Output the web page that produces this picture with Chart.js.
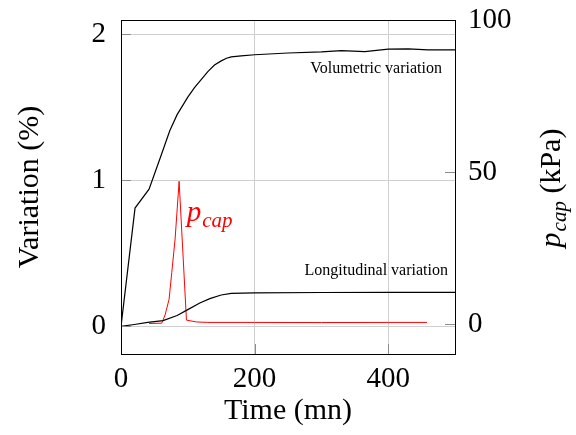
<!DOCTYPE html>
<html>
<head>
<meta charset="utf-8">
<script src="https://cdn.jsdelivr.net/npm/chart.js@4.4.1/dist/chart.umd.min.js"></script>
<style>
  html, body { margin: 0; padding: 0; background: #fff; }
</style>
</head>
<body>
<canvas id="chart" width="576" height="435"></canvas>
<script>
// Volumetric variation (%) vs time (mn)
const volTime   = [0, 21, 42, 60, 73, 84, 92, 100, 110, 120, 130, 140, 150, 158, 165, 180, 200, 250, 300, 330, 365, 400, 430, 460, 500];
const volValues = [0, 0.81, 0.94, 1.17, 1.34, 1.45, 1.51, 1.57, 1.635, 1.69, 1.745, 1.79, 1.818, 1.836, 1.845, 1.853, 1.86, 1.872, 1.88, 1.888, 1.882, 1.898, 1.9, 1.893, 1.893];

// Longitudinal variation (%) vs time (mn)
const lonTime   = [0, 20, 40, 63, 84, 100, 118, 133, 150, 165, 200, 300, 400, 500];
const lonValues = [0, 0.013, 0.027, 0.04, 0.075, 0.115, 0.16, 0.19, 0.215, 0.226, 0.23, 0.232, 0.233, 0.233];

// capillary pressure p_cap (kPa) vs time (mn), right axis
const capTime   = [42, 61, 66, 72, 76, 81, 87, 98, 113, 130, 200, 300, 400, 458];
const capValues = [0.2, 0.3, 3, 8.2, 17, 28, 47, 1.3, 0.7, 0.55, 0.55, 0.5, 0.55, 0.55];

// tick labels
const xTicks  = [0, 200, 400];
const yTicks  = [0, 1, 2];
const y2Ticks = [0, 50, 100];

const serif = "'Liberation Serif', 'DejaVu Serif', serif";
Chart.defaults.font.family = serif;
Chart.defaults.color = '#000';

const toPoints = (xs, ys) => xs.map((x, i) => ({ x: x, y: ys[i] }));
const fixTicks = list => scale => { scale.ticks = list.map(v => ({ value: v })); };
const noPad = s => { s.paddingTop = 0; s.paddingBottom = 0; s.paddingLeft = 0; s.paddingRight = 0; };

// frame, inner tick marks and text annotations (pgfplots look)
const decor = {
  id: 'decor',
  afterDraw(chart) {
    const { ctx, chartArea: a, scales } = chart;
    ctx.save();
    // inner ticks
    ctx.strokeStyle = '#8c8c8c';
    ctx.lineWidth = 1;
    ctx.beginPath();
    yTicks.forEach(v => {
      const y = Math.round(scales.y.getPixelForValue(v)) + 0.5;
      ctx.moveTo(a.left, y); ctx.lineTo(a.left + 10, y);
    });
    y2Ticks.forEach(v => {
      const y = Math.round(scales.y2.getPixelForValue(v)) + 0.5;
      ctx.moveTo(a.right - 10, y); ctx.lineTo(a.right, y);
    });
    xTicks.forEach(v => {
      const x = Math.round(scales.x.getPixelForValue(v)) + 0.5;
      ctx.moveTo(x, a.bottom); ctx.lineTo(x, a.bottom - 10);
    });
    ctx.stroke();
    // frame
    ctx.strokeStyle = '#000';
    ctx.strokeRect(Math.round(a.left) + 0.5, Math.round(a.top) + 0.5,
                   Math.round(a.right - a.left), Math.round(a.bottom - a.top));

    // curve labels
    ctx.fillStyle = '#000';
    ctx.textBaseline = 'alphabetic';
    ctx.textAlign = 'right';
    ctx.font = '16px ' + serif;
    ctx.fillText('Volumetric variation', scales.x.getPixelForValue(480.5), scales.y.getPixelForValue(1.735));
    ctx.fillText('Longitudinal variation', scales.x.getPixelForValue(489.5), scales.y.getPixelForValue(0.35));

    // p_cap label next to the peak
    ctx.textAlign = 'left';
    ctx.fillStyle = '#ff0000';
    let px = scales.x.getPixelForValue(98.5);
    const py = scales.y.getPixelForValue(0.72);
    ctx.font = 'italic 29px ' + serif;
    ctx.fillText('p', px, py);
    px += ctx.measureText('p').width + 1;
    ctx.font = 'italic 21px ' + serif;
    ctx.fillText('cap', px, py + 6);

    // right axis title, rotated
    ctx.fillStyle = '#000';
    ctx.translate(560, 188);
    ctx.rotate(-Math.PI / 2);
    ctx.font = 'italic 30px ' + serif;
    const wP = ctx.measureText('p').width;
    ctx.font = 'italic 21px ' + serif;
    const wC = ctx.measureText('cap').width;
    ctx.font = '30px ' + serif;
    const wK = ctx.measureText(' (kPa)').width;
    let tx = -(wP + 1 + wC + wK) / 2;
    ctx.font = 'italic 30px ' + serif;
    ctx.fillText('p', tx, 0);
    tx += wP + 1;
    ctx.font = 'italic 21px ' + serif;
    ctx.fillText('cap', tx, 6);
    tx += wC;
    ctx.font = '30px ' + serif;
    ctx.fillText(' (kPa)', tx, 0);
    ctx.restore();
  }
};

new Chart(document.getElementById('chart'), {
  type: 'line',
  data: {
    datasets: [
      { label: 'Volumetric variation', data: toPoints(volTime, volValues), yAxisID: 'y',
        borderColor: '#000', borderWidth: 1.2, pointRadius: 0, tension: 0 },
      { label: 'Longitudinal variation', data: toPoints(lonTime, lonValues), yAxisID: 'y',
        borderColor: '#000', borderWidth: 1.2, pointRadius: 0, tension: 0 },
      { label: 'p_cap', data: toPoints(capTime, capValues), yAxisID: 'y2',
        borderColor: '#ff0000', borderWidth: 1, pointRadius: 0, tension: 0 }
    ]
  },
  options: {
    responsive: false,
    animation: false,
    events: [],
    layout: { padding: { top: 20, left: 0, right: 0, bottom: 0 } },
    plugins: { legend: { display: false }, tooltip: { enabled: false } },
    scales: {
      x: {
        type: 'linear', min: 0, max: 500,
        afterBuildTicks: fixTicks(xTicks),
        afterFit: s => { noPad(s); s.height = 81; },
        grid: { color: '#cfcfcf', drawTicks: false },
        border: { display: false },
        ticks: { font: { size: 29 }, padding: 8, maxRotation: 0 },
        title: { display: true, text: 'Time (mn)', font: { size: 30 }, padding: { top: 0, bottom: 6 } }
      },
      y: {
        type: 'linear', position: 'left', min: -0.189, max: 2.098,
        afterBuildTicks: fixTicks(yTicks),
        afterFit: s => { noPad(s); s.width = 121; },
        grid: { color: '#cfcfcf', drawTicks: false },
        border: { display: false },
        ticks: { font: { size: 29 }, padding: 15 },
        title: { display: true, text: 'Variation (%)', font: { size: 30 }, padding: { top: 12, bottom: 0 } }
      },
      y2: {
        type: 'linear', position: 'right', min: -9.85, max: 100.1,
        afterBuildTicks: fixTicks(y2Ticks),
        afterFit: s => { noPad(s); s.width = 121; },
        grid: { display: false, drawTicks: false },
        border: { display: false },
        ticks: { font: { size: 29 }, padding: 13 }
      }
    }
  },
  plugins: [decor]
});
</script>
</body>
</html>
